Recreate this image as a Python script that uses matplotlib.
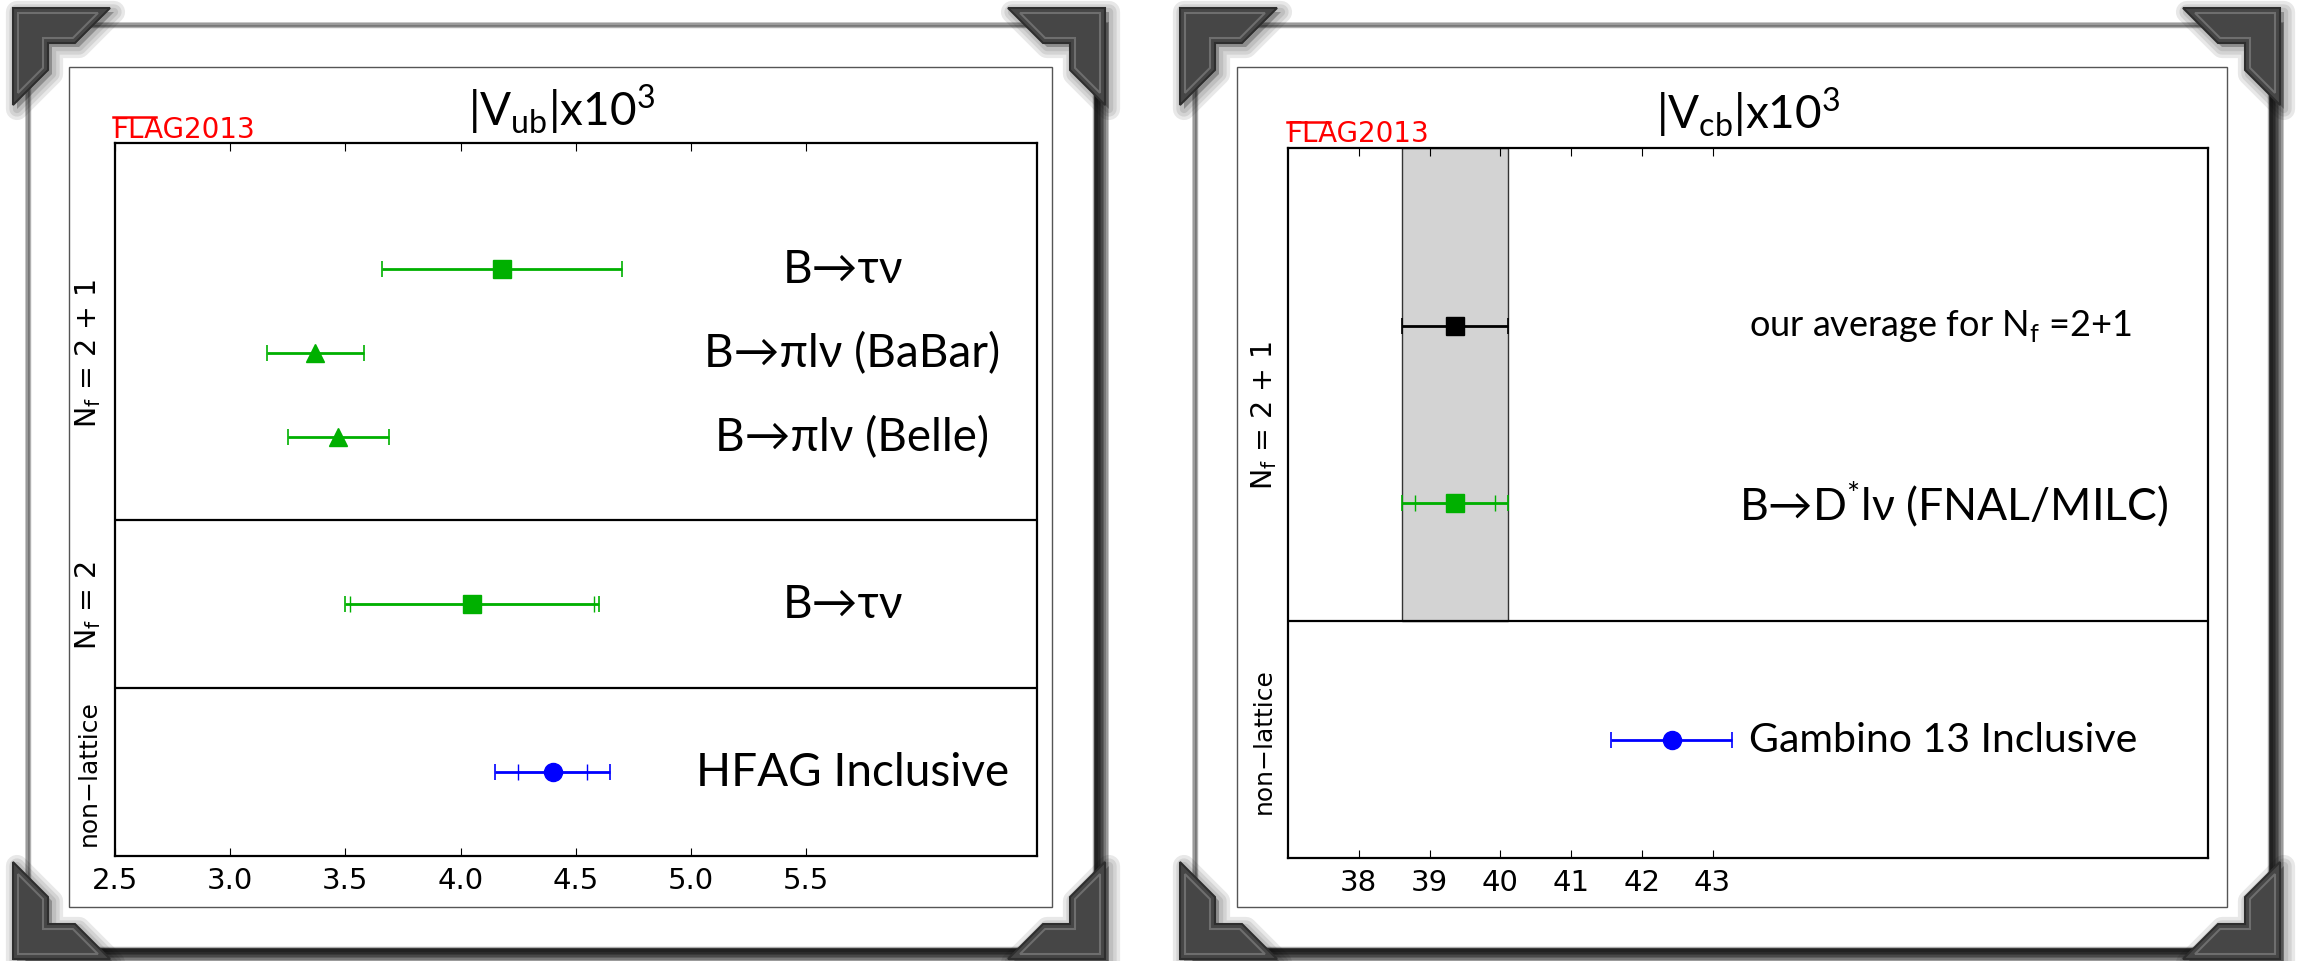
import numpy as np
import matplotlib
matplotlib.use("Agg")
import matplotlib.pyplot as plt
from matplotlib.patches import Rectangle, Polygon
from matplotlib.lines import Line2D

W, H, DPI = 2300, 962, 100

GREEN = "#00b000"
BLUE = "#0000ff"
LABEL_FONT = ["Lato", "DejaVu Sans"]

# |Vub| x 10^3 panel
vub_labels = ["B→τν", "B→πlν (BaBar)", "B→πlν (Belle)", "B→τν", "HFAG Inclusive"]
vub_values = [4.18, 3.37, 3.47, 4.05, 4.40]
vub_errors = [0.52, 0.21, 0.22, 0.55, 0.25]
vub_inner_errors = [None, None, None, 0.53, 0.15]
vub_rows = [7, 6, 5, 3, 1]
vub_markers = ["s", "^", "^", "s", "o"]
vub_colors = [GREEN, GREEN, GREEN, GREEN, BLUE]
vub_label_x = [5.66, 5.7, 5.7, 5.66, 5.7]
vub_groups = [r"$\mathregular{N_f}$ = 2 + 1", r"$\mathregular{N_f}$ = 2", "non−lattice"]
vub_group_rows = [6, 3, 1]
vub_separators = [4, 2]
vub_ticks = [2.5, 3.0, 3.5, 4.0, 4.5, 5.0, 5.5]

# |Vcb| x 10^3 panel
vcb_labels = [r"our average for N$_{\mathregular{f}}$ =2+1",
              r"B→D$^{\mathregular{*}}$lν (FNAL/MILC)",
              "Gambino 13 Inclusive"]
vcb_values = [39.36, 39.36, 42.42]
vcb_errors = [0.75, 0.75, 0.86]
vcb_inner_errors = [None, 0.56, None]
vcb_rows = [9, 6, 2]
vcb_markers = ["s", "s", "o"]
vcb_colors = ["black", GREEN, BLUE]
vcb_groups = [r"$\mathregular{N_f}$ = 2 + 1", "non−lattice"]
vcb_group_rows = [7.5, 2]
vcb_separators = [4]
vcb_ticks = [38, 39, 40, 41, 42, 43]
vcb_average = 39.36
vcb_average_err = 0.75

fig = plt.figure(figsize=(W / DPI, H / DPI), dpi=DPI)


def fig_rect(x0, y0, x1, y1, **kw):
    return Rectangle((x0 / W, 1 - y1 / H), (x1 - x0) / W, (y1 - y0) / H,
                     transform=fig.transFigure, **kw)


def bracket(x, y, flipx, flipy, S=97, T=35, d=5):
    """ decorative photo corner, x/y = top left pixel of its box """
    outer = [(0, 0), (S, 0), (S - T, T), (T, T), (T, S - T), (0, S)]
    r = d * np.sqrt(2)
    inner = [(d, d), (S - r - d, d), (S - r - T + d, T - d), (T - d, T - d),
             (T - d, S - r - T + d), (d, S - r - d)]

    def conv(pts, dx=0, dy=0):
        out = []
        for px, py in pts:
            if flipx:
                px = S - px
            if flipy:
                py = S - py
            out.append(((x + px + dx) / W, 1 - (y + py + dy) / H))
        return out

    for lw in [16, 11, 6]:
        fig.add_artist(Polygon(conv(outer, 4, 4), closed=True, facecolor="k",
                               edgecolor="k", lw=lw, alpha=0.09,
                               joinstyle="round", transform=fig.transFigure, zorder=4))
    fig.add_artist(Polygon(conv(outer), closed=True, facecolor="#464646",
                           edgecolor="#2e2e2e", lw=1.5,
                           transform=fig.transFigure, zorder=5))
    fig.add_artist(Polygon(conv(inner), closed=True, facecolor="none",
                           edgecolor="#6e6e6e", lw=1.5,
                           transform=fig.transFigure, zorder=6))


def card(x0, y0, x1, y1):
    for i in range(8):
        s = i * 1.6
        fig.add_artist(fig_rect(x0 + 6 - s, y0 + 6 - s, x1 + 5 + s, y1 + 5 + s,
                                facecolor="k", edgecolor="none", alpha=0.22,
                                zorder=-3))
    fig.add_artist(fig_rect(x0, y0, x1, y1, facecolor="white",
                            edgecolor="#b0b0b0", lw=1, zorder=-2))
    bracket(x0 - 17, y0 - 19, False, False)
    bracket(x1 + 12 - 97, y0 - 19, True, False)
    bracket(x0 - 17, y1 + 12 - 97, False, True)
    bracket(x1 + 12 - 97, y1 + 12 - 97, True, True)


def flag_logo(x, base):
    fig.text(x / W, 1 - base / H, "FLAG2013", color="red", fontsize=20,
             family="DejaVu Sans", ha="left", va="baseline")
    fig.add_artist(Line2D([(x + 1) / W, (x + 44) / W],
                          [1 - (base - 19.5) / H, 1 - (base - 19.5) / H],
                          color="red", lw=1.8, transform=fig.transFigure))


def make_axes(box):
    x0, y0, x1, y1 = box
    ax = fig.add_axes([x0 / W, 1 - y1 / H, (x1 - x0) / W, (y1 - y0) / H])
    for sp in ax.spines.values():
        sp.set_linewidth(1.6)
    ax.set_yticks([])
    ax.tick_params(axis="x", direction="in", top=True, length=6, width=0.8,
                   labelsize=21, pad=7)
    return ax


def draw_points(ax, values, errors, inner, rows, markers, colors):
    for v, e, ei, y, m, c in zip(values, errors, inner, rows, markers, colors):
        ax.errorbar(v, y, xerr=e, fmt=m, color=c, ecolor=c, ms=13, mec=c,
                    lw=2, capsize=6, capthick=1.2, zorder=4)
        if ei is not None:
            ax.errorbar(v, y, xerr=ei, fmt="none", ecolor=c, lw=1,
                        capsize=6, capthick=1, zorder=4)


def group_labels(ax, labels, rows, xoff):
    for lab, y in zip(labels, rows):
        size = 20.5 if "N_f" in lab else 18
        ax.text(xoff, y, lab, transform=ax.get_yaxis_transform(), rotation=90,
                ha="center", va="center", fontsize=size, family="DejaVu Sans")


# frames
card(30, 28, 1093, 948)
card(1197, 28, 2268, 948)
fig.add_artist(fig_rect(69, 68, 1052, 908, facecolor="none",
                        edgecolor="#555555", lw=1, zorder=-1))
fig.add_artist(fig_rect(1237, 68, 2227, 908, facecolor="none",
                        edgecolor="#555555", lw=1, zorder=-1))

# ---- left panel: |Vub|
ax1 = make_axes((115, 144, 1036.5, 857))
ax1.set_xlim(2.5, 6.5)
ax1.set_ylim(0, 8.5)
ax1.set_xticks(vub_ticks)
ax1.set_xticklabels([f"{t:.1f}" for t in vub_ticks], family="DejaVu Sans")
for s in vub_separators:
    ax1.axhline(s, color="black", lw=1.6)
draw_points(ax1, vub_values, vub_errors, vub_inner_errors, vub_rows,
            vub_markers, vub_colors)
for lab, x, y in zip(vub_labels, vub_label_x, vub_rows):
    ax1.text(x, y, lab, ha="center", va="center", fontsize=33, family=LABEL_FONT)
group_labels(ax1, vub_groups, vub_group_rows, -0.029)
ax1.set_title(r"|V$_{\mathregular{ub}}$|x10$^{\mathregular{3}}$", fontsize=33,
              family=LABEL_FONT, pad=13, x=0.485)
flag_logo(112, 137.5)

# ---- right panel: |Vcb|
ax2 = make_axes((1288, 149, 2208, 859))
ax2.set_xlim(37, 50)
ax2.set_ylim(0, 12)
ax2.set_xticks(vcb_ticks)
ax2.set_xticklabels([str(t) for t in vcb_ticks], family="DejaVu Sans")
for s in vcb_separators:
    ax2.axhline(s, color="black", lw=1.6)
ax2.add_patch(Rectangle((vcb_average - vcb_average_err, vcb_separators[0]),
                        2 * vcb_average_err, 12 - vcb_separators[0],
                        facecolor="#d3d3d3", edgecolor="#333333", lw=1, zorder=1))
draw_points(ax2, vcb_values, vcb_errors, vcb_inner_errors, vcb_rows,
            vcb_markers, vcb_colors)
ax2.text(43.52, vcb_rows[0], vcb_labels[0], ha="left", va="center",
         fontsize=26, family=LABEL_FONT)
ax2.text(46.41, vcb_rows[1], vcb_labels[1], ha="center", va="center",
         fontsize=32, family=LABEL_FONT)
ax2.text(43.52, vcb_rows[2], vcb_labels[2], ha="left", va="center",
         fontsize=29.5, family=LABEL_FONT)
group_labels(ax2, vcb_groups, vcb_group_rows, -0.026)
ax2.set_title(r"|V$_{\mathregular{cb}}$|x10$^{\mathregular{3}}$", fontsize=33,
              family=LABEL_FONT, pad=14)
flag_logo(1286, 142)

fig.savefig("out.png", dpi=DPI, facecolor="white")
